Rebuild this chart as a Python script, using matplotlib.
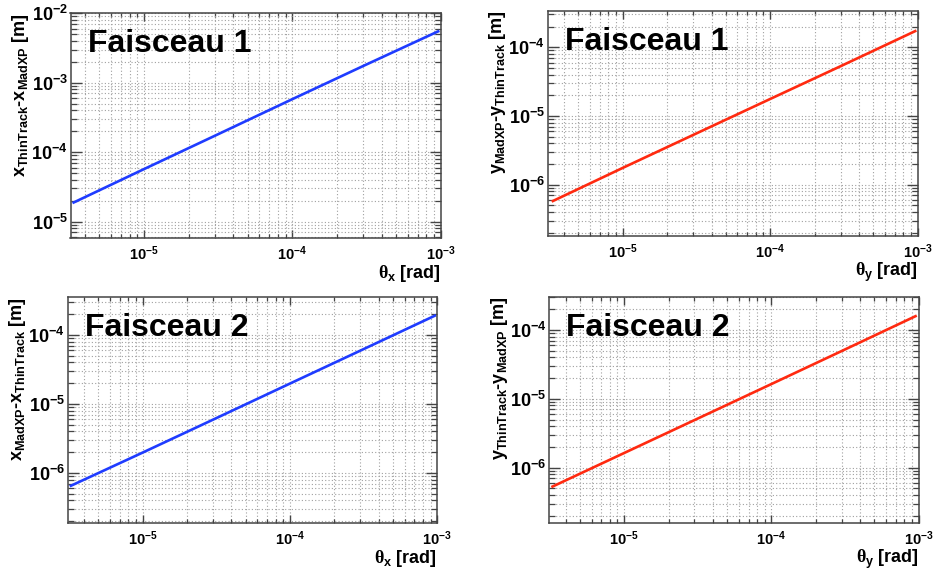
import matplotlib
matplotlib.use("Agg")
import matplotlib.pyplot as plt
from matplotlib.ticker import LogLocator, FuncFormatter, NullFormatter
import numpy as np

plt.rcParams['font.family'] = ['Liberation Sans', 'DejaVu Sans']
plt.rcParams['font.weight'] = 'bold'
plt.rcParams['mathtext.fontset'] = 'custom'
plt.rcParams['mathtext.default'] = 'bf'
plt.rcParams['mathtext.bf'] = 'Liberation Sans:bold'
plt.rcParams['mathtext.rm'] = 'Liberation Sans:bold'
plt.rcParams['mathtext.it'] = 'Liberation Serif'

# ---- data ----
theta_1x = [3.3e-6, 1e-5, 3e-5, 1e-4, 3e-4, 9.8e-4]
dx_beam1 = [1.85e-5, 5.7e-5, 1.72e-4, 5.8e-4, 1.74e-3, 5.6e-3]

theta_1y = [3.3e-6, 1e-5, 3e-5, 1e-4, 3e-4, 9.8e-4]
dy_beam1 = [5.7e-7, 1.76e-6, 5.3e-6, 1.77e-5, 5.3e-5, 1.75e-4]

theta_2x = [3.2e-6, 1e-5, 3e-5, 1e-4, 3e-4, 9.8e-4]
dx_beam2 = [6.4e-7, 1.97e-6, 5.9e-6, 1.97e-5, 5.9e-5, 1.93e-4]

theta_2y = [3.2e-6, 1e-5, 3e-5, 1e-4, 3e-4, 9.7e-4]
dy_beam2 = [5.2e-7, 1.63e-6, 4.9e-6, 1.64e-5, 4.95e-5, 1.62e-4]

titles = ["Faisceau 1", "Faisceau 1", "Faisceau 2", "Faisceau 2"]
ylabels = [r"$x_{ThinTrack}$-$x_{MadXP}$ [m]",
           r"$y_{MadXP}$-$y_{ThinTrack}$ [m]",
           r"$x_{MadXP}$-$x_{ThinTrack}$ [m]",
           r"$y_{ThinTrack}$-$y_{MadXP}$ [m]"]
xlabels = [r"$\mathit{\theta}_{x}$ [rad]", r"$\mathit{\theta}_{y}$ [rad]",
           r"$\mathit{\theta}_{x}$ [rad]", r"$\mathit{\theta}_{y}$ [rad]"]
xlims = [(3.2e-6, 1e-3), (3.1e-6, 1e-3), (3.1e-6, 1e-3), (3.1e-6, 1e-3)]
ylims = [(5.75e-6, 1e-2), (1.8e-7, 3.4e-4), (1.9e-7, 3.5e-4), (1.58e-7, 3.05e-4)]
colors = ["#1f3cff", "#ff2a10", "#1f3cff", "#ff2a10"]
xs = [theta_1x, theta_1y, theta_2x, theta_2y]
ys = [dx_beam1, dy_beam1, dx_beam2, dy_beam2]

W, H = 933, 570
fig = plt.figure(figsize=(W / 100, H / 100), dpi=100)

# axes boxes in pixels: left, top, right, bottom
boxes = [(70.5, 13.3, 440.7, 238.3),
         (547.7, 10.7, 917.7, 236.0),
         (67.7, 297.3, 437.3, 522.7),
         (549.3, 296.7, 918.7, 522.7)]

def fmt(v, pos):
    e = int(round(np.log10(v)))
    return r"$10^{%d}$" % e

for i in range(4):
    l, t, r, b = boxes[i]
    ax = fig.add_axes([l / W, (H - b) / H, (r - l) / W, (b - t) / H])
    ax.set_xscale('log')
    ax.set_yscale('log')
    ax.plot(xs[i], ys[i], color=colors[i], lw=1.9, solid_capstyle='butt')
    ax.set_xlim(*xlims[i])
    ax.set_ylim(*ylims[i])
    for a in (ax.xaxis, ax.yaxis):
        a.set_major_locator(LogLocator(base=10, numticks=20))
        a.set_minor_locator(LogLocator(base=10, subs=np.arange(2, 10), numticks=20))
        a.set_major_formatter(FuncFormatter(fmt))
        a.set_minor_formatter(NullFormatter())
    ax.grid(True, which='both', color='#a0a0a0', lw=0.8, ls=(0, (1, 2)))
    ax.set_axisbelow(True)
    for s in ax.spines.values():
        s.set_color('#444444')
        s.set_linewidth(1.1)
    ax.tick_params(axis='x', which='major', direction='in', length=5.8, width=1.0,
                   color='#444444', top=True, bottom=True, labelsize=10.5, pad=4.5)
    ax.tick_params(axis='x', which='minor', direction='in', length=2.9, width=0.9,
                   color='#444444', top=True, bottom=True)
    ax.tick_params(axis='y', which='major', direction='in', length=7.9, width=1.0,
                   color='#444444', left=True, right=True, labelsize=13, pad=2)
    ax.tick_params(axis='y', which='minor', direction='in', length=4.3, width=0.9,
                   color='#444444', left=True, right=True)
    ph = r - l
    pv = b - t
    ax.text(-50 / ph, 1.0, ylabels[i], transform=ax.transAxes, rotation=90,
            ha='center', va='top', fontsize=13, fontweight='bold')
    ax.text(1.0, -25 / pv, xlabels[i], transform=ax.transAxes,
            ha='right', va='top', fontsize=13, fontweight='bold')
    ax.text(17 / ph, 1 - 16 / pv, titles[i], transform=ax.transAxes,
            ha='left', va='top', fontsize=23, fontweight='bold', color='black')

fig.savefig("out.png", dpi=100)
